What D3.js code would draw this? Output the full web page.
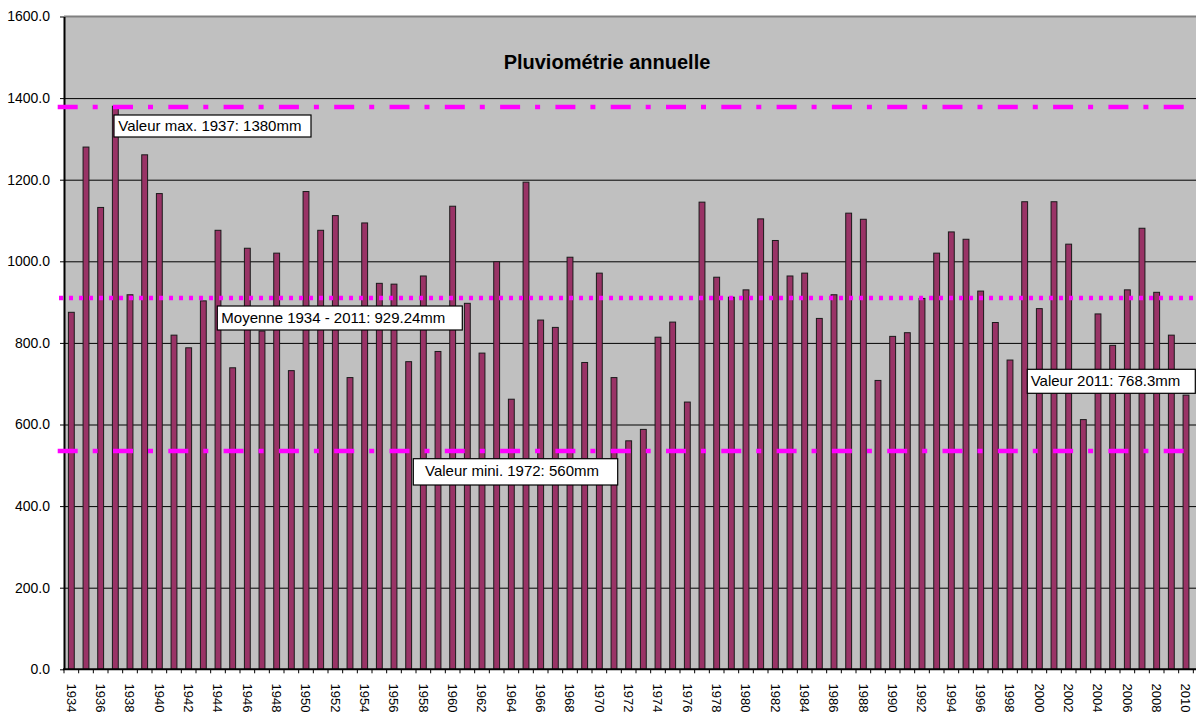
<!DOCTYPE html>
<html>
<head>
<meta charset="utf-8">
<script src="https://cdn.jsdelivr.net/npm/d3@7"></script>
<style>
  body { margin: 0; background: #fff; }
  text { font-family: "Liberation Sans", Arial, sans-serif; }
</style>
</head>
<body>
<div id="Graph"></div>
<script>
// annual rainfall (mm)
const years = [1934,1935,1936,1937,1938,1939,1940,1941,1942,1943,1944,1945,1946,1947,1948,1949,
  1950,1951,1952,1953,1954,1955,1956,1957,1958,1959,1960,1961,1962,1963,1964,1965,1966,1967,1968,1969,
  1970,1971,1972,1973,1974,1975,1976,1977,1978,1979,1980,1981,1982,1983,1984,1985,1986,1987,1988,1989,
  1990,1991,1992,1993,1994,1995,1996,1997,1998,1999,2000,2001,2002,2003,2004,2005,2006,2007,2008,2009,
  2010,2011];
const rainfall = [875,1280,1132,1380,918,1261,1166,819,788,903,1076,739,1032,829,1020,732,
  1171,1076,1112,715,1094,946,944,754,964,779,1135,897,775,999,662,1194,856,838,1010,752,
  971,715,560,588,814,851,655,1145,961,912,930,1104,1051,964,971,860,918,1118,1103,708,
  816,825,909,1020,1072,1054,927,850,758,1146,884,1146,1042,612,871,794,930,1081,924,819,
  672,768.3];
const yTicks = [0,200,400,600,800,1000,1200,1400,1600];
// horizontal reference lines as drawn: max, mean, min
const refValues = [1378, 910, 535];
const notes = ["Valeur max. 1937: 1380mm", "Moyenne 1934 - 2011: 929.24mm",
  "Valeur mini. 1972: 560mm", "Valeur 2011: 768.3mm"];

const width = 1196, height = 713;
const plotLeft = 64, plotTop = 16.5, plotBottom = 669.3, plotRight = 1208;

const svg = d3.select('#Graph').append('svg')
  .attr('width', width)
  .attr('height', height);

const x = d3.scaleBand().domain(years).range([plotLeft, plotRight]);
const y = d3.scaleLinear().domain([0, 1600]).range([plotBottom, plotTop]);
const barW = x.bandwidth() / 2.5;

// plot background
svg.append('rect')
  .attr('x', plotLeft).attr('y', plotTop)
  .attr('width', plotRight - plotLeft).attr('height', plotBottom - plotTop)
  .attr('fill', '#c0c0c0');

// gridlines
svg.append('g')
  .attr('transform', `translate(${plotLeft},0)`)
  .call(d3.axisLeft(y).tickValues(yTicks.slice(1, -1)).tickSize(-(plotRight - plotLeft)).tickFormat(''))
  .call(g => g.select('.domain').remove())
  .selectAll('line').attr('stroke', '#000').attr('stroke-width', 1);

// top border
svg.append('line')
  .attr('x1', plotLeft).attr('x2', plotRight)
  .attr('y1', y(1600)).attr('y2', y(1600))
  .attr('stroke', '#808080').attr('stroke-width', 2);

// title
svg.append('text')
  .attr('x', 607).attr('y', 69)
  .attr('text-anchor', 'middle')
  .attr('font-weight', 'bold')
  .attr('font-size', 20)
  .text('Pluviométrie annuelle');

// bars
svg.selectAll('rect.bar')
  .data(years)
  .enter()
  .append('rect')
  .attr('class', 'bar')
  .attr('x', (d) => x(d) + (x.bandwidth() - barW) / 2)
  .attr('y', (d, i) => y(rainfall[i]))
  .attr('width', barW)
  .attr('height', (d, i) => plotBottom - y(rainfall[i]))
  .attr('fill', '#993366')
  .attr('stroke', '#1a1a1a')
  .attr('stroke-width', 1);

// y axis
const yAxis = svg.append('g')
  .attr('transform', `translate(${plotLeft},0)`)
  .call(d3.axisLeft(y).tickValues(yTicks).tickFormat(d3.format('.1f')).tickSize(4).tickPadding(10).tickSizeOuter(0));
yAxis.select('.domain').attr('stroke', '#000').attr('stroke-width', 2);
yAxis.selectAll('text').attr('font-size', 14).attr('fill', '#000')
  .attr('font-family', '"Liberation Sans", Arial, sans-serif');

// x axis
const xAxis = svg.append('g');
xAxis.append('line')
  .attr('x1', plotLeft - 1).attr('x2', plotRight)
  .attr('y1', plotBottom).attr('y2', plotBottom)
  .attr('stroke', '#000').attr('stroke-width', 2);
xAxis.selectAll('line.tick')
  .data(years.concat([null]))
  .enter()
  .append('line')
  .attr('class', 'tick')
  .attr('x1', (d) => d === null ? plotRight : x(d))
  .attr('x2', (d) => d === null ? plotRight : x(d))
  .attr('y1', plotBottom).attr('y2', plotBottom + 4)
  .attr('stroke', '#000').attr('stroke-width', 1);
xAxis.selectAll('text')
  .data(years.filter((d, i) => i % 2 === 0))
  .enter()
  .append('text')
  .attr('transform', (d) => `translate(${x(d) + x.bandwidth() / 2},683.5) rotate(90)`)
  .attr('dy', '0.35em')
  .attr('font-size', 13)
  .text((d) => d);

// reference lines
const dashes = ['20,15,5,15.3', '4,6', '20,15,5,15.3'];
svg.selectAll('line.ref')
  .data(refValues)
  .enter()
  .append('line')
  .attr('class', 'ref')
  .attr('x1', (d, i) => i === 1 ? 59 : 57.7)
  .attr('x2', plotRight)
  .attr('y1', (d) => y(d)).attr('y2', (d) => y(d))
  .attr('stroke', '#ff00ff')
  .attr('stroke-width', 4.5)
  .attr('stroke-dasharray', (d, i) => dashes[i]);

// text boxes
const boxes = [
  {x: 114, y: 115, w: 197, h: 22},
  {x: 217.3, y: 306, w: 245, h: 24},
  {x: 413.3, y: 458.7, w: 204.4, h: 26.3},
  {x: 1027.3, y: 369.3, w: 168, h: 24}
];
const textPos = [[118.3, 130.7], [221.3, 323.3], [425, 476], [1030.7, 386]];
const note = svg.selectAll('g.note')
  .data(notes)
  .enter()
  .append('g')
  .attr('class', 'note');
note.append('rect')
  .attr('x', (d, i) => boxes[i].x).attr('y', (d, i) => boxes[i].y)
  .attr('width', (d, i) => boxes[i].w).attr('height', (d, i) => boxes[i].h)
  .attr('fill', '#fff').attr('stroke', '#000').attr('stroke-width', 1.2);
note.append('text')
  .attr('x', (d, i) => textPos[i][0]).attr('y', (d, i) => textPos[i][1])
  .attr('font-size', 15)
  .text((d) => d);
</script>
</body>
</html>
